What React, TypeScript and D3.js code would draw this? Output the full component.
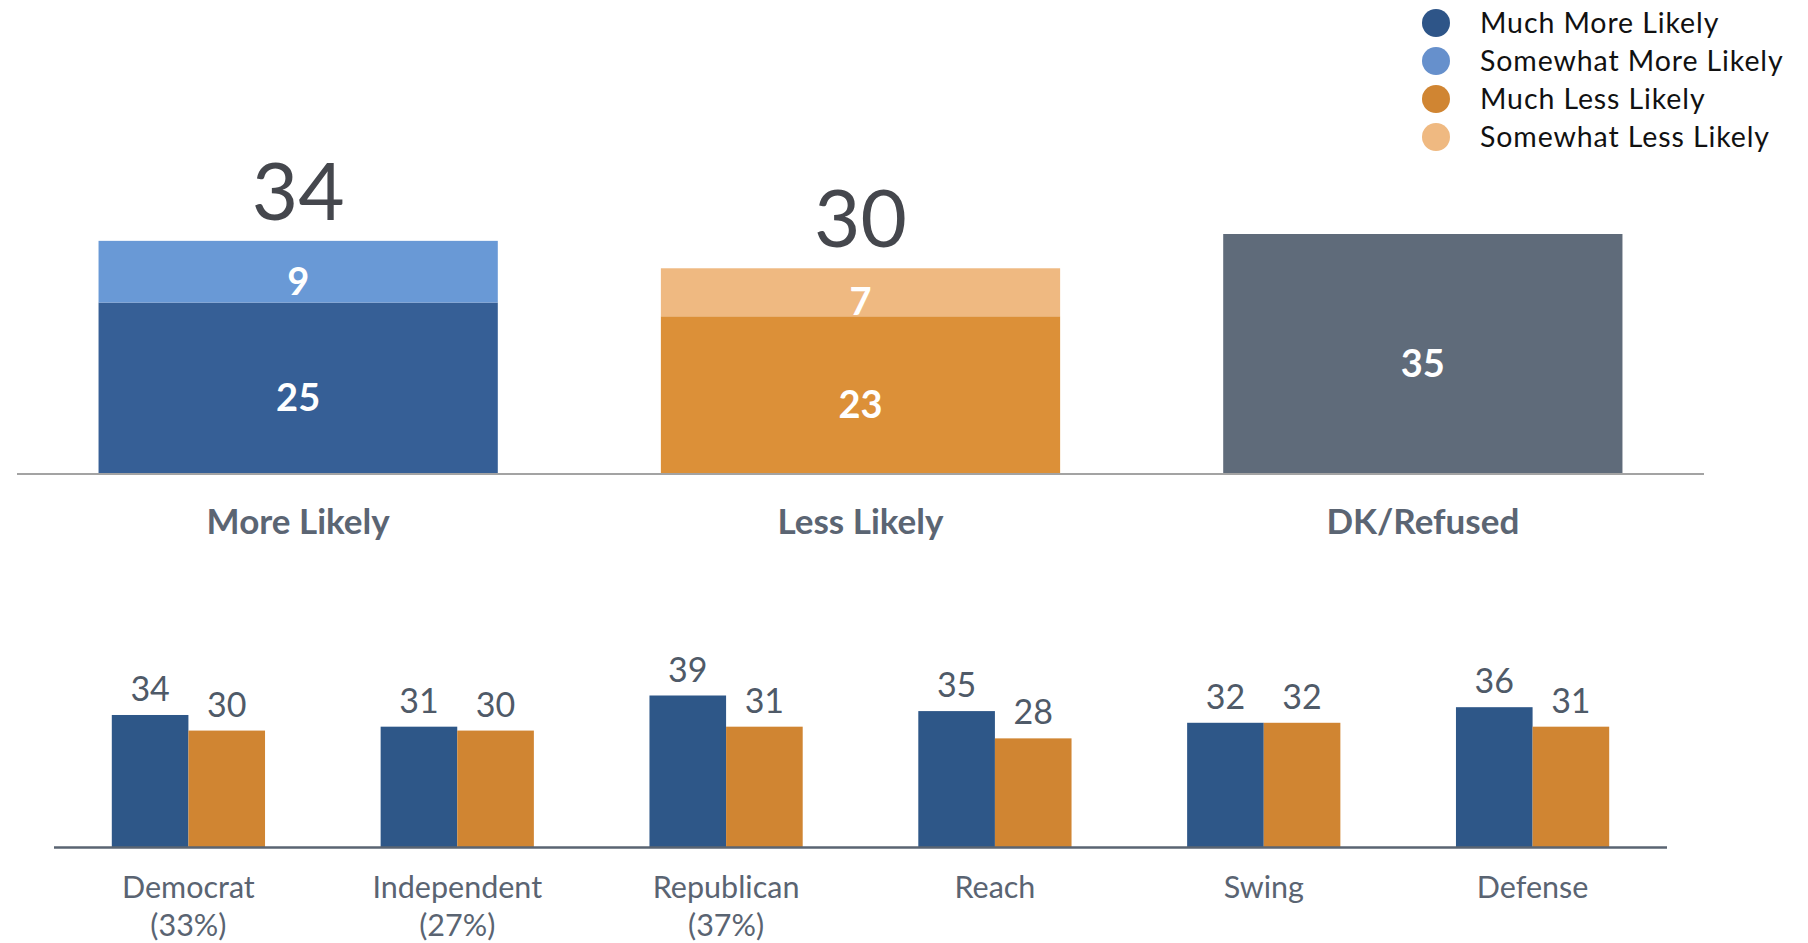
import React from "react";
import * as d3 from "d3";

const topCategories = ["More Likely", "Less Likely", "DK/Refused"];
const topMuch = [25, 23, 35];
const topSomewhat = [9, 7, 0];
const topTotals = [34, 30, null];
const topMuchColors = ["#365f96", "#dc9038", "#5f6b7a"];
const topSomewhatColors = ["#6999d6", "#efb981", "#5f6b7a"];

const legendLabels = ["Much More Likely", "Somewhat More Likely", "Much Less Likely", "Somewhat Less Likely"];
const legendColors = ["#2e5588", "#6690cc", "#d08532", "#efb981"];

const groups = ["Democrat", "Independent", "Republican", "Reach", "Swing", "Defense"];
const groupSub = ["(33%)", "(27%)", "(37%)", "", "", ""];
const moreLikely = [34, 31, 39, 35, 32, 36];
const lessLikely = [30, 30, 31, 28, 32, 31];
const seriesKeys = ["more", "less"];
const seriesColors = ["#2e5788", "#d08532"];

const FONT = "Lato, 'Open Sans', sans-serif";

export default function App() {
  const W = 1808;
  const H = 943;

  const xTop = d3.scaleBand<string>().domain(topCategories).range([17, 1704]).paddingInner(0.29).paddingOuter(0.145);
  const yTop = d3.scaleLinear().domain([0, 35]).range([474, 234]);

  const xBot = d3.scaleBand<string>().domain(groups).range([54, 1667]).paddingInner(0.43).paddingOuter(0.215);
  const xSub = d3.scaleBand<string>().domain(seriesKeys).range([0, xBot.bandwidth()]).padding(0);
  const yBot = d3.scaleLinear().domain([0, 39]).range([847.5, 695.5]);

  const labelOffset = 9;

  return (
    <svg
      width={W}
      height={H}
      style={{ position: "absolute", left: 0, top: 0, display: "block", background: "#fff" }}
      fontFamily={FONT}
    >
      {/* Top chart */}
      {topCategories.map((c, i) => {
        const x = xTop(c)!;
        const bw = xTop.bandwidth();
        const cx = x + bw / 2;
        const y0 = yTop(0);
        const y1 = yTop(topMuch[i]);
        const y2 = yTop(topMuch[i] + topSomewhat[i]);
        const total = topTotals[i];
        return (
          <g key={c}>
            <rect x={x} y={y1} width={bw} height={y0 - y1} fill={topMuchColors[i]} />
            {topSomewhat[i] > 0 && (
              <rect x={x} y={y2} width={bw} height={y1 - y2} fill={topSomewhatColors[i]} />
            )}
            <text
              x={cx}
              y={(y0 + y1) / 2 + labelOffset + 14}
              textAnchor="middle"
              fontSize={38}
              fontWeight={700}
              fill="#fff"
            >
              {topMuch[i]}
            </text>
            {topSomewhat[i] > 0 && (
              <text
                x={cx}
                y={(y1 + y2) / 2 + labelOffset + 14}
                textAnchor="middle"
                fontSize={38}
                fontWeight={700}
                fill="#fff"
              >
                {topSomewhat[i]}
              </text>
            )}
            {total !== null && (
              <text x={cx} y={y2 - 21} textAnchor="middle" fontSize={80} fill="#45474d">
                {total}
              </text>
            )}
            <text x={cx} y={534} textAnchor="middle" fontSize={35} fontWeight={700} fill="#5b6573">
              {c}
            </text>
          </g>
        );
      })}
      <line x1={17} x2={1704} y1={yTop(0)} y2={yTop(0)} stroke="#a3a3a3" strokeWidth={2} />

      {/* Legend */}
      {legendLabels.map((l, i) => {
        const cy = 23 + i * 38;
        return (
          <g key={l}>
            <circle cx={1436} cy={cy} r={14} fill={legendColors[i]} />
            <text x={1480} y={cy + 10} fontSize={28.5} letterSpacing={0.9} fill="#111">
              {l}
            </text>
          </g>
        );
      })}

      {/* Bottom chart */}
      {groups.map((g, i) => {
        const gx = xBot(g)!;
        const vals = [moreLikely[i], lessLikely[i]];
        return (
          <g key={g} transform={`translate(${gx},0)`}>
            {seriesKeys.map((k, j) => {
              const bx = xSub(k)!;
              const by = yBot(vals[j]);
              return (
                <g key={k}>
                  <rect x={bx} y={by} width={xSub.bandwidth()} height={yBot(0) - by} fill={seriesColors[j]} />
                  <text
                    x={bx + xSub.bandwidth() / 2}
                    y={by - 14}
                    textAnchor="middle"
                    fontSize={34}
                    fill="#4f5a68"
                  >
                    {vals[j]}
                  </text>
                </g>
              );
            })}
            <text x={xBot.bandwidth() / 2} y={898} textAnchor="middle" fontSize={30.5} fill="#5a6472">
              {g}
            </text>
            {groupSub[i] && (
              <text x={xBot.bandwidth() / 2} y={936} textAnchor="middle" fontSize={30.5} fill="#5a6472">
                {groupSub[i]}
              </text>
            )}
          </g>
        );
      })}
      <line x1={54} x2={1667} y1={yBot(0)} y2={yBot(0)} stroke="#5a6472" strokeWidth={2.5} />
    </svg>
  );
}
